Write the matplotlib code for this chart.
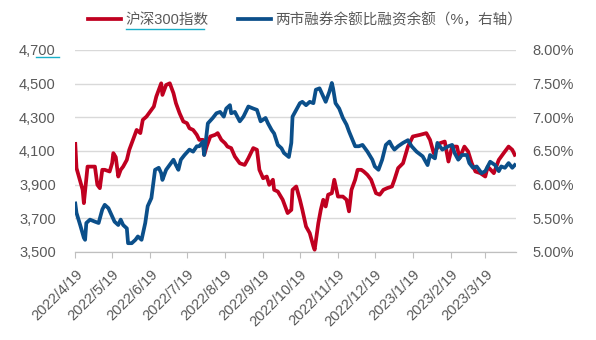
import pandas as pd
import matplotlib.pyplot as plt
from matplotlib.lines import Line2D

plt.rcParams['font.family'] = ['Liberation Sans', 'Noto Sans CJK SC', 'DejaVu Sans']

# 沪深300指数 (left axis)
hs300_dates = [
    "2022-04-19", "2022-04-20", "2022-04-25", "2022-04-26", "2022-04-29", "2022-05-02",
    "2022-05-05", "2022-05-07", "2022-05-09", "2022-05-11", "2022-05-13", "2022-05-17",
    "2022-05-19", "2022-05-20", "2022-05-22", "2022-05-24", "2022-05-26", "2022-05-28",
    "2022-05-31", "2022-06-02", "2022-06-05", "2022-06-08", "2022-06-11", "2022-06-13",
    "2022-06-16", "2022-06-19", "2022-06-22", "2022-06-24", "2022-06-28", "2022-06-29",
    "2022-07-02", "2022-07-05", "2022-07-08", "2022-07-10", "2022-07-13", "2022-07-16",
    "2022-07-19", "2022-07-21", "2022-07-24", "2022-07-27", "2022-07-29", "2022-08-01",
    "2022-08-02", "2022-08-04", "2022-08-07", "2022-08-11", "2022-08-13", "2022-08-16",
    "2022-08-19", "2022-08-21", "2022-08-24", "2022-08-27", "2022-08-31", "2022-09-04",
    "2022-09-07", "2022-09-11", "2022-09-14", "2022-09-16", "2022-09-19", "2022-09-22",
    "2022-09-24", "2022-09-27", "2022-09-28", "2022-10-01", "2022-10-05", "2022-10-09",
    "2022-10-12", "2022-10-13", "2022-10-16", "2022-10-19", "2022-10-21", "2022-10-24",
    "2022-10-27", "2022-10-30", "2022-10-31", "2022-11-03", "2022-11-05", "2022-11-07",
    "2022-11-09", "2022-11-11", "2022-11-14", "2022-11-16", "2022-11-19", "2022-11-23",
    "2022-11-26", "2022-11-28", "2022-11-30", "2022-12-03", "2022-12-05", "2022-12-08",
    "2022-12-10", "2022-12-13", "2022-12-16", "2022-12-20", "2022-12-23", "2022-12-26",
    "2022-12-29", "2023-01-02", "2023-01-04", "2023-01-07", "2023-01-11", "2023-01-15",
    "2023-01-19", "2023-01-25", "2023-01-30", "2023-02-02", "2023-02-05", "2023-02-07",
    "2023-02-10", "2023-02-14", "2023-02-17", "2023-02-20", "2023-02-24", "2023-02-26",
    "2023-03-02", "2023-03-05", "2023-03-08", "2023-03-11", "2023-03-15", "2023-03-19",
    "2023-03-21", "2023-03-26", "2023-03-30", "2023-04-03", "2023-04-07", "2023-04-10",
    "2023-04-12",
]
hs300_values = [
    4142, 3998, 3869, 3790, 4007, 4007, 4007, 3899, 3879, 3988, 3988, 3978,
    4027, 4087, 4063, 3948, 3988, 4007, 4047, 4107, 4166, 4225, 4206, 4285,
    4304, 4334, 4364, 4423, 4502, 4433, 4492, 4502, 4443, 4384, 4324, 4275,
    4265, 4235, 4225, 4196, 4166, 4166, 4077, 4126, 4186, 4196, 4206, 4166,
    4146, 4126, 4117, 4067, 4027, 4017, 4057, 4117, 4107, 3988, 3938, 3948,
    3899, 3929, 3869, 3859, 3810, 3731, 3750, 3869, 3889, 3810, 3750, 3651,
    3612, 3533, 3513, 3671, 3750, 3810, 3770, 3840, 3849, 3929, 3829, 3829,
    3810, 3741, 3869, 3929, 3988, 3988, 3978, 3958, 3929, 3849, 3840, 3869,
    3879, 3889, 3929, 3998, 4027, 4126, 4186, 4196, 4206, 4166, 4087, 4107,
    4146, 4156, 4037, 4126, 4126, 4057, 4126, 4097, 4027, 3978, 3968, 3948,
    4007, 3968, 4047, 4087, 4126, 4107, 4077,
]

# 两市融券余额比融资余额 (%, right axis)
ratio_dates = [
    "2022-04-19", "2022-04-20", "2022-04-23", "2022-04-26", "2022-04-27", "2022-04-28",
    "2022-05-01", "2022-05-05", "2022-05-08", "2022-05-11", "2022-05-13", "2022-05-16",
    "2022-05-19", "2022-05-21", "2022-05-24", "2022-05-26", "2022-05-28", "2022-05-31",
    "2022-06-01", "2022-06-04", "2022-06-07", "2022-06-09", "2022-06-12", "2022-06-15",
    "2022-06-17", "2022-06-20", "2022-06-23", "2022-06-26", "2022-06-28", "2022-06-29",
    "2022-07-02", "2022-07-08", "2022-07-10", "2022-07-12", "2022-07-14", "2022-07-17",
    "2022-07-21", "2022-07-24", "2022-07-27", "2022-07-29", "2022-08-01", "2022-08-02",
    "2022-08-05", "2022-08-09", "2022-08-12", "2022-08-15", "2022-08-18", "2022-08-20",
    "2022-08-23", "2022-08-24", "2022-08-27", "2022-08-31", "2022-09-03", "2022-09-07",
    "2022-09-11", "2022-09-14", "2022-09-17", "2022-09-21", "2022-09-23", "2022-09-26",
    "2022-09-28", "2022-10-01", "2022-10-04", "2022-10-06", "2022-10-10", "2022-10-12",
    "2022-10-13", "2022-10-16", "2022-10-19", "2022-10-21", "2022-10-24", "2022-10-27",
    "2022-10-30", "2022-11-01", "2022-11-04", "2022-11-07", "2022-11-09", "2022-11-12",
    "2022-11-14", "2022-11-15", "2022-11-17", "2022-11-20", "2022-11-23", "2022-11-26",
    "2022-11-28", "2022-12-01", "2022-12-03", "2022-12-06", "2022-12-09", "2022-12-13",
    "2022-12-17", "2022-12-19", "2022-12-22", "2022-12-25", "2022-12-28", "2022-12-31",
    "2023-01-02", "2023-01-04", "2023-01-07", "2023-01-11", "2023-01-15", "2023-01-18",
    "2023-01-22", "2023-01-27", "2023-01-31", "2023-02-02", "2023-02-06", "2023-02-08",
    "2023-02-12", "2023-02-17", "2023-02-20", "2023-02-22", "2023-02-25", "2023-02-28",
    "2023-03-04", "2023-03-06", "2023-03-09", "2023-03-12", "2023-03-16", "2023-03-19",
    "2023-03-23", "2023-03-27", "2023-03-30", "2023-04-01", "2023-04-04", "2023-04-07",
    "2023-04-10", "2023-04-12",
]
ratio_values = [
    5.72, 5.58, 5.40, 5.21, 5.18, 5.43, 5.48, 5.45, 5.43, 5.63, 5.70, 5.65,
    5.53, 5.45, 5.40, 5.48, 5.40, 5.35, 5.13, 5.13, 5.18, 5.23, 5.18, 5.43,
    5.68, 5.80, 6.22, 6.25, 6.17, 6.07, 6.22, 6.37, 6.29, 6.22, 6.37, 6.44,
    6.52, 6.49, 6.57, 6.57, 6.64, 6.44, 6.91, 6.99, 7.06, 7.08, 7.01, 7.13,
    7.18, 7.06, 7.08, 6.94, 7.01, 7.16, 7.13, 7.11, 6.94, 6.99, 6.91, 6.81,
    6.76, 6.59, 6.54, 6.47, 6.41, 6.62, 7.01, 7.11, 7.21, 7.23, 7.18, 7.23,
    7.21, 7.41, 7.43, 7.31, 7.23, 7.38, 7.51, 7.43, 7.21, 7.13, 6.99, 6.89,
    6.79, 6.66, 6.57, 6.57, 6.59, 6.49, 6.37, 6.27, 6.22, 6.37, 6.59, 6.64,
    6.57, 6.52, 6.57, 6.62, 6.66, 6.57, 6.49, 6.42, 6.29, 6.44, 6.39, 6.62,
    6.52, 6.57, 6.59, 6.47, 6.37, 6.44, 6.44, 6.32, 6.25, 6.27, 6.17, 6.20,
    6.34, 6.29, 6.20, 6.27, 6.25, 6.32, 6.25, 6.29,
]

tick_dates = ["2022-04-19", "2022-05-19", "2022-06-19", "2022-07-19", "2022-08-19",
              "2022-09-19", "2022-10-19", "2022-11-19", "2022-12-19", "2023-01-19",
              "2023-02-19", "2023-03-19"]
tick_labels = ["2022/4/19", "2022/5/19", "2022/6/19", "2022/7/19", "2022/8/19",
               "2022/9/19", "2022/10/19", "2022/11/19", "2022/12/19", "2023/1/19",
               "2023/2/19", "2023/3/19"]
left_ticks = [3500, 3700, 3900, 4100, 4300, 4500, 4700]
right_ticks = [5.0, 5.5, 6.0, 6.5, 7.0, 7.5, 8.0]

red = "#C00020"
blue = "#0B4F8A"
grey_txt = "#595959"
grid_c = "#D9D9D9"

fig = plt.figure(figsize=(5.96, 3.40), dpi=100)
ax = fig.add_axes([0.1263, 0.259, 0.7394, 0.594])
ax2 = ax.twinx()

l1, = ax.plot(pd.to_datetime(hs300_dates), hs300_values, color=red, lw=2.7,
              solid_joinstyle="round", label="沪深300指数")
l2, = ax2.plot(pd.to_datetime(ratio_dates), ratio_values, color=blue, lw=2.7,
               solid_joinstyle="round", label="两市融券余额比融资余额（%，右轴）")

ax.set_xlim(pd.Timestamp("2022-04-19"), pd.Timestamp("2023-04-13"))
ax.set_ylim(3500, 4700)
ax2.set_ylim(5.0, 8.0)
ax.set_yticks(left_ticks)
ax.set_yticklabels([f"{v:,}" for v in left_ticks])
ax2.set_yticks(right_ticks)
ax2.set_yticklabels([f"{v:.2f}%" for v in right_ticks])

ax.set_xticks(pd.to_datetime(tick_dates))
ax.set_xticklabels(tick_labels, rotation=45, ha="right", rotation_mode="anchor")

ax.grid(axis="y", color=grid_c, lw=1)
ax.set_axisbelow(True)
for a in (ax, ax2):
    for s in ("top", "left", "right"):
        a.spines[s].set_visible(False)
    a.spines["bottom"].set_color("#BFBFBF")
ax.tick_params(axis="x", length=4, color="#BFBFBF", labelsize=10.5, labelcolor=grey_txt, pad=7)
ax.tick_params(axis="y", length=0, labelsize=10.5, labelcolor=grey_txt, pad=14)
ax2.tick_params(axis="y", length=0, labelsize=10.5, labelcolor=grey_txt, pad=12)

fig.legend(handles=[l1, l2], loc="center left", bbox_to_anchor=(88 / 596, 1 - 19.5 / 340), ncol=2,
           frameon=False, fontsize=10.5, labelcolor=grey_txt, handlelength=2.26,
           handletextpad=0.3, columnspacing=2.0, borderaxespad=0, borderpad=0)

# cyan highlight underlines as in the source image
fig.add_artist(Line2D([126 / 596, 204 / 596], [1 - 29 / 340, 1 - 29 / 340], color="#1AAFC8", lw=1))
fig.add_artist(Line2D([36 / 596, 59 / 596], [1 - 57 / 340, 1 - 57 / 340], color="#1AAFC8", lw=1))

fig.savefig("out.png", dpi=100)
